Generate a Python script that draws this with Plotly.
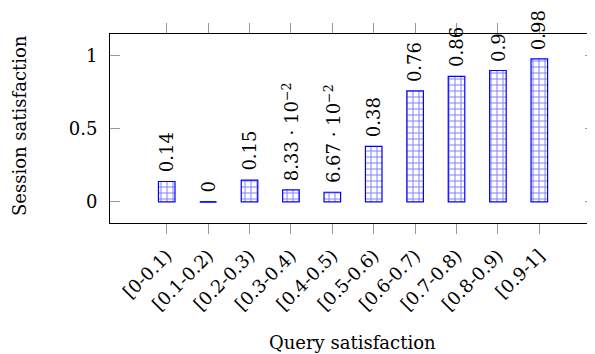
import plotly.graph_objects as go

categories = ["[0-0.1)", "[0.1-0.2)", "[0.2-0.3)", "[0.3-0.4)", "[0.4-0.5)",
              "[0.5-0.6)", "[0.6-0.7)", "[0.7-0.8)", "[0.8-0.9)", "[0.9-1]"]
session_sat = [0.14, 0.0, 0.15, 0.0833, 0.0667, 0.38, 0.76, 0.86, 0.9, 0.98]
y_tick_vals = [0, 0.5, 1]
y_tick_text = ["0", "0.5", "1"]


def fmt(v):
    if v == 0:
        return "0"
    if abs(v) < 0.1:
        mant = v * 100
        return f"{mant:.2f} · 10<sup>−2</sup>"
    return f"{v:g}"


FONT = "DejaVu Serif"
FS = 18
BLUE = "#0000ff"
xs = list(range(len(categories)))
BW = 0.4

fig = go.Figure()
fig.add_trace(go.Bar(
    x=xs, y=session_sat, width=BW,
    marker=dict(color="white", line=dict(color=BLUE, width=1.2),
                pattern=dict(shape="+", fgcolor=BLUE, bgcolor="white",
                             size=6, solidity=0.3)),
    showlegend=False,
))

# zero-height bars: draw their outline as a line
for x, v in zip(xs, session_sat):
    if v == 0:
        fig.add_trace(go.Scatter(x=[x - BW / 2, x + BW / 2], y=[v, v], mode="lines",
                                 line=dict(color=BLUE, width=1.2), showlegend=False,
                                 hoverinfo="skip"))

for x, v in zip(xs, session_sat):
    fig.add_annotation(x=x, y=v, text=fmt(v), textangle=-90, showarrow=False,
                       xanchor="center", yanchor="bottom", yshift=7,
                       font=dict(family=FONT, size=FS, color="black"))

fig.add_annotation(xref="paper", yref="paper", x=0.5, y=-0.63, text="Query satisfaction",
                   showarrow=False, xanchor="center", yanchor="middle",
                   font=dict(family=FONT, size=FS, color="black"))
fig.add_annotation(xref="paper", yref="paper", x=-0.1876, y=0.513, text="Session satisfaction",
                   textangle=-90, showarrow=False, xanchor="center", yanchor="middle",
                   font=dict(family=FONT, size=FS, color="black"))

# page body has an 8px margin, so the figure is sized to fit the window
fig.update_layout(
    width=587, height=346,
    margin=dict(l=102, r=0, t=26, b=131, autoexpand=False),
    plot_bgcolor="white", paper_bgcolor="white",
    font=dict(family=FONT, size=FS, color="black"),
    xaxis=dict(range=[-1.37, 10.345], tickmode="array", tickvals=xs, ticktext=categories,
               tickangle=-45, ticks="outside", ticklen=10, tickcolor="#999999", tickwidth=1,
               showline=True, linecolor="black", linewidth=1, mirror="ticks",
               showgrid=False, zeroline=False, ticklabelstandoff=4, automargin=False),
    yaxis=dict(range=[-0.144, 1.15], tickmode="array", tickvals=y_tick_vals, ticktext=y_tick_text,
               ticks="inside", ticklen=10, tickcolor="#999999", tickwidth=1,
               showline=True, linecolor="black", linewidth=1, mirror="ticks",
               showgrid=False, zeroline=False, ticklabelstandoff=8, automargin=False),
)

fig.write_html("out.html")
